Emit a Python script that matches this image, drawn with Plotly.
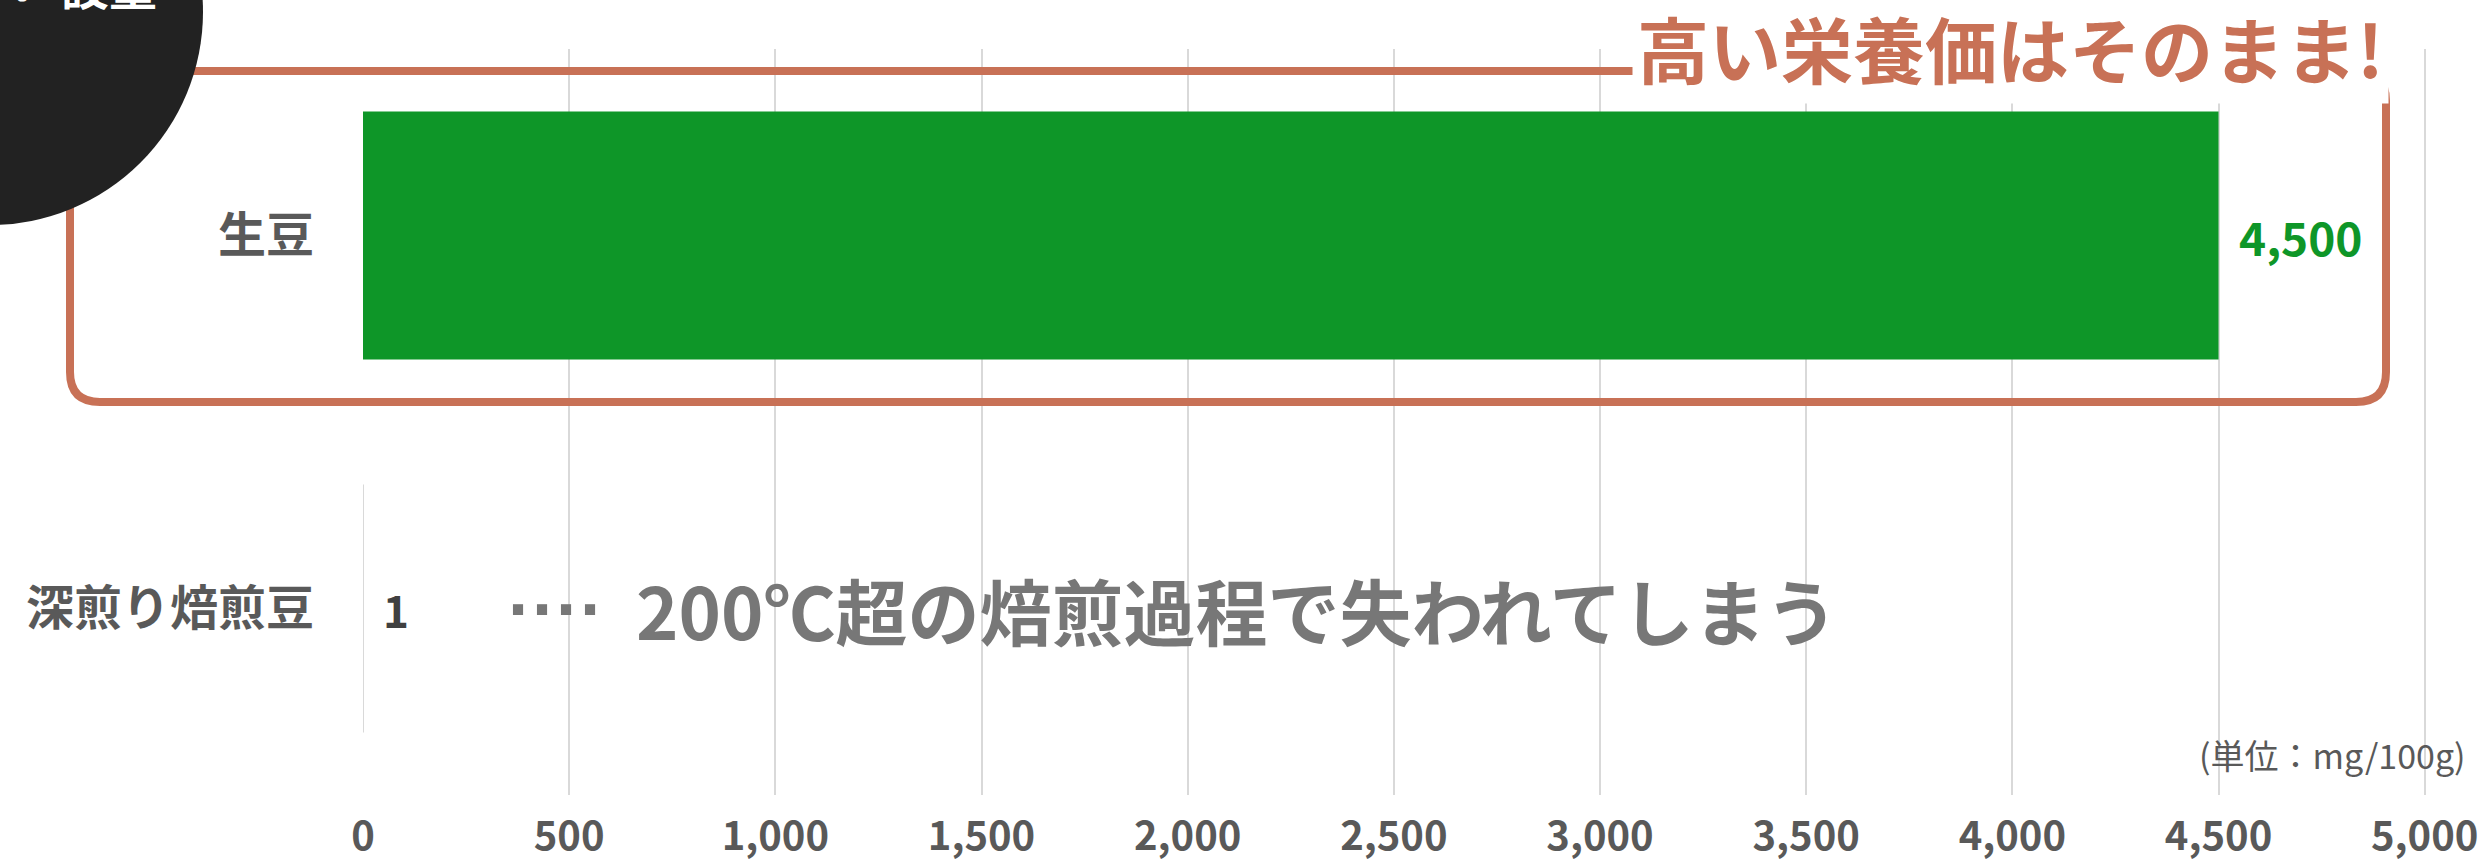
import plotly.graph_objects as go

# ---- data ----
categories = ["生豆", "深煎り焙煎豆"]
values = [4500, 1]
value_colors = ["#0E9628", "#404040"]
bar_colors = ["#0E9628", "#D9D9D9"]
x_ticks = [0, 500, 1000, 1500, 2000, 2500, 3000, 3500, 4000, 4500, 5000]
x_tick_labels = ["0", "500", "1,000", "1,500", "2,000", "2,500", "3,000", "3,500", "4,000", "4,500", "5,000"]
title_text = "高い栄養価はそのまま!"
note_text = "200℃超の焙煎過程で失われてしまう"
unit_text = "(単位：mg/100g)"
badge_text = "✔ 設量"

W, H = 2478, 864
L, R, T, B = 363, 50, 49, 69
PW, PH = W - L - R, H - T - B

def px(x):
    return (x - L) / PW

def py(y):
    return (H - B - y) / PH

JP = "Noto Sans CJK JP"
SALMON = "#C87156"

fig = go.Figure()
fig.add_trace(go.Bar(
    x=values, y=categories, orientation="h",
    marker=dict(color=bar_colors, line=dict(width=0)),
    width=0.665, hoverinfo="skip",
))

annotations = []
for c, v, col in zip(categories, values, value_colors):
    annotations.append(dict(
        x=v, y=c, xref="x", yref="y", text=f"{v:,}", showarrow=False,
        xanchor="left", yanchor="middle", xshift=18,
        font=dict(family=JP, size=46 if v > 100 else 44, color=col, weight="bold"),
    ))

# dots + note next to 深煎り焙煎豆
annotations.append(dict(
    x=px(506), y=categories[1], xref="paper", yref="y", text="····",
    showarrow=False, xanchor="left", yanchor="middle", yshift=0,
    font=dict(family="Liberation Sans", size=72, color="#777777", weight="bold"),
))
annotations.append(dict(
    x=px(634), y=categories[1], xref="paper", yref="y", text=note_text,
    showarrow=False, xanchor="left", yanchor="middle", yshift=0,
    font=dict(family=JP, size=72, color="#777777", weight="bold"),
))
# unit
annotations.append(dict(
    x=px(2468), y=py(754), xref="paper", yref="paper", text=unit_text,
    showarrow=False, xanchor="right", yanchor="middle",
    font=dict(family=JP, size=34, color="#595959"),
))
# title over the box line
annotations.append(dict(
    x=px(1632), y=py(46), xref="paper", yref="paper", text=title_text,
    showarrow=False, xanchor="left", yanchor="middle",
    bgcolor="white", borderpad=4,
    font=dict(family=JP, size=72, color=SALMON, weight="bold"),
))
# badge text (mostly cut off at top)
annotations.append(dict(
    x=px(8), y=py(-16), xref="paper", yref="paper", text=badge_text,
    showarrow=False, xanchor="left", yanchor="middle",
    font=dict(family=JP, size=48, color="white", weight="bold"),
))

# rounded rectangle
x0, x1, y0, y1 = px(70), px(2386), py(402), py(71)
rx, ry = 30 / PW, 30 / PH
path = (f"M {x0+rx},{y1} L {x1-rx},{y1} Q {x1},{y1} {x1},{y1-ry} "
        f"L {x1},{y0+ry} Q {x1},{y0} {x1-rx},{y0} L {x0+rx},{y0} "
        f"Q {x0},{y0} {x0},{y0+ry} L {x0},{y1-ry} Q {x0},{y1} {x0+rx},{y1} Z")
shapes = [
    dict(type="path", xref="paper", yref="paper", path=path,
         line=dict(color=SALMON, width=8), fillcolor="rgba(0,0,0,0)", layer="above"),
    dict(type="circle", xref="paper", yref="paper",
         x0=px(-10 - 213), x1=px(-10 + 213), y0=py(12 + 213), y1=py(12 - 213),
         fillcolor="#222222", line=dict(width=0), layer="above"),
]

fig.update_layout(
    width=W, height=H,
    margin=dict(l=L, r=R, t=T, b=B, pad=0, autoexpand=False),
    plot_bgcolor="white", paper_bgcolor="white",
    showlegend=False,
    annotations=annotations, shapes=shapes,
    xaxis=dict(
        range=[0, 5008], tickvals=x_ticks, ticktext=x_tick_labels,
        showgrid=True, gridcolor="#D9D9D9", gridwidth=2,
        zeroline=False, showline=False, ticks="",
        ticklabelstandoff=14, automargin=False, ticklabeloverflow="allow",
        tickfont=dict(family=JP, size=40, color="#595959", weight="bold"),
        fixedrange=True,
    ),
    yaxis=dict(
        type="category", range=[1.5, -0.5],
        showgrid=False, zeroline=False, showline=False, ticks="",
        ticklabelstandoff=48, automargin=False,
        tickfont=dict(family=JP, size=48, color="#595959", weight="bold"),
        fixedrange=True,
    ),
)

fig.write_html("out.html", config=dict(displayModeBar=False),
               post_script="document.body.style.margin='0';")
